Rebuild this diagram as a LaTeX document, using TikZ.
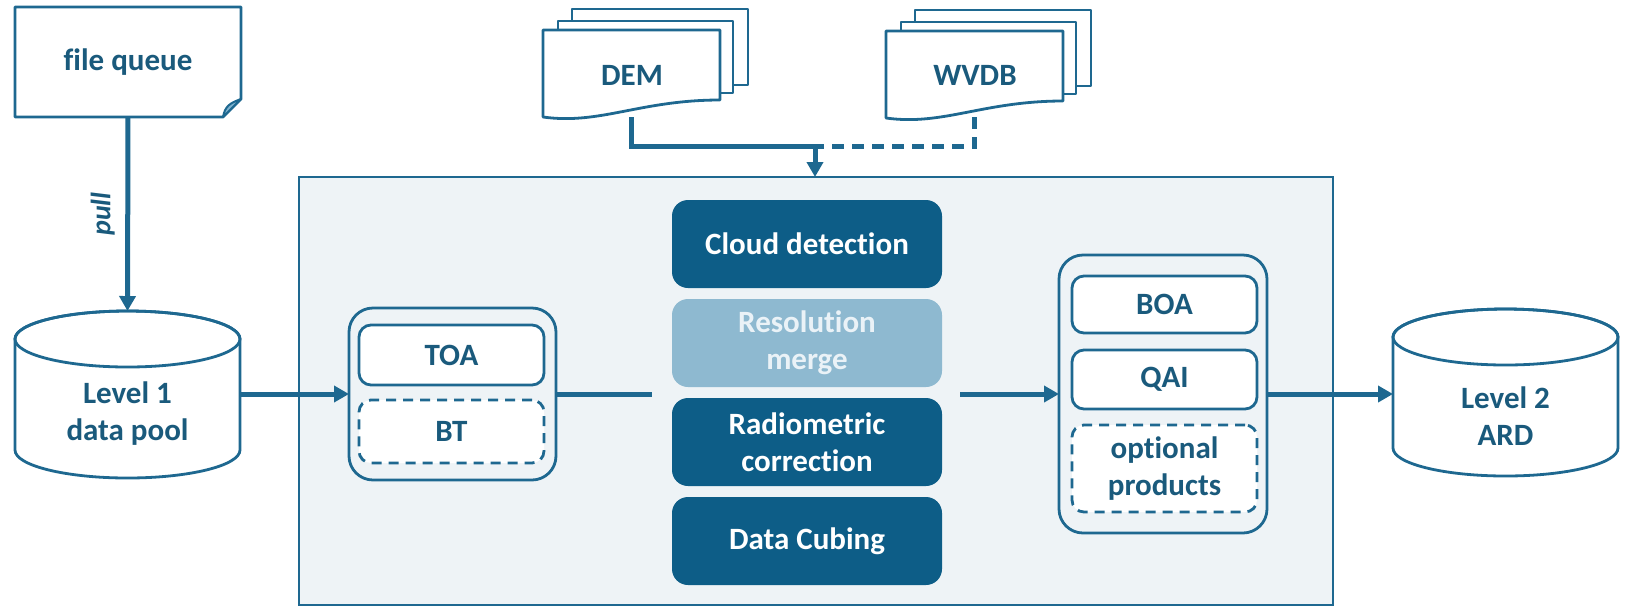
\documentclass[tikz,border=0pt]{standalone}
\usepackage{fontspec}
\setmainfont{Carlito}[Ligatures=NoCommon]
\usetikzlibrary{arrows.meta}
\definecolor{ln}{HTML}{1E6890}
\definecolor{txt}{HTML}{1A5A7C}
\definecolor{dark}{HTML}{0D5D87}
\definecolor{light}{HTML}{8EB9D0}
\definecolor{bg}{HTML}{EEF3F6}
\definecolor{foldc}{HTML}{7FB3CF}
\definecolor{paletxt}{HTML}{EAF2F7}
\newcommand{\mydoc}[2]{%
  \draw[docline,fill=white] (#1+29,#2-21) rectangle (#1+205,#2+55);
  \draw[docline,fill=white] (#1+15,#2-9) rectangle (#1+190,#2+63);
  \draw[docline,fill=white] (#1,#2) -- (#1+177,#2) -- (#1+177,#2+70)
     .. controls (#1+97,#2+70) and (#1+57,#2+95) .. (#1,#2+87) -- cycle;}
\newcommand{\mycyl}[4]{% left x, right x, top y, bottom y (ry = 28)
  \draw[docline,fill=white] (#1,#3+28) -- (#1,#4-28)
     arc (180:0:{(#2-#1)/2} and 28) -- (#2,#3+28)
     arc (0:-180:{(#2-#1)/2} and 28) -- cycle;
  \draw[docline] ({(#1+#2)/2},#3+28) ellipse [x radius={(#2-#1)/2}, y radius=28];}
\begin{document}
\begin{tikzpicture}[x=0.5pt,y=-0.5pt,
  every node/.style={inner sep=0pt, outer sep=0pt, align=center,
    font=\fontsize{15.5}{18.5}\selectfont\bfseries, text=txt},
  box/.style={draw=ln, line width=1.4pt, fill=white, rounded corners=6pt, minimum width=92.5pt},
  dbox/.style={box, dash pattern=on 5pt off 3.5pt},
  grp/.style={draw=ln, line width=1.4pt, fill=bg, rounded corners=12pt},
  proc/.style={fill=dark, rounded corners=8pt, minimum width=135pt, minimum height=44pt, text=white},
  conn/.style={draw=ln, line width=2.5pt},
  arr/.style={conn, -{Triangle[length=7.5pt,width=8pt]}},
  docline/.style={draw=ln, line width=1.4pt, line join=round}
]
\useasboundingbox (0,0) rectangle (1628,607);

% main processing box
\node[draw=ln, line width=1.1pt, fill=bg, minimum width=517pt, minimum height=214pt] (mb) at (816,391) {};

% shape frames (anchors)
\node[minimum width=113pt, minimum height=55pt] (fq) at (128,62) {};
\node[minimum width=112.5pt, minimum height=83.5pt] (l1) at (127.5,394.5) {};
\node[minimum width=112.5pt, minimum height=83.5pt] (l2) at (1505.5,392.5) {};
\node[minimum width=88.5pt, minimum height=43.5pt] (dem) at (631.5,73.5) {};
\node[minimum width=88.5pt, minimum height=43pt] (wvdb) at (974.5,74) {};

% left group
\node[grp, minimum width=103.5pt, minimum height=86pt] (lg) at (452.5,394) {};
\node[box, minimum height=30pt] (toa) at (451.5,355) {TOA};
\node[dbox, minimum height=31.5pt] (bt) at (451.5,431.5) {BT};

% processing steps
\node[proc] (cloud) at (807,244) {Cloud detection};
\node[proc, fill=light, text=paletxt] (res) at (807,343) {Resolution\\merge};
\node[proc] (rad) at (807,442) {Radiometric\\correction};
\node[proc] (cube) at (807,541) {Data Cubing};

% right group
\node[grp, minimum width=104pt, minimum height=139pt] (rg) at (1163,394) {};
\node[box, minimum height=28.5pt] (boa) at (1164.5,304.5) {BOA};
\node[box, minimum height=29.5pt] (qai) at (1164.5,379.5) {QAI};
\node[dbox, minimum height=43.5pt] (opt) at (1164.5,468.5) {optional\\products};

% connectors
\coordinate (c1) at (652,394);
\coordinate (c2) at (960,394);
\coordinate (j) at (815,146);
\draw[arr] (fq.south) -- node[midway, xshift=-12.5pt, rotate=90,
   font=\fontsize{14}{16}\selectfont\bfseries\itshape] (pull) {pull} (l1.north);
\draw[arr] (l1.east |- lg.west) -- (lg.west);
\draw[conn] (lg.east) -- (c1);
\draw[arr] (c2) -- (rg.west);
\draw[arr] (rg.east) -- (rg.east -| l2.west);
\draw[conn] (dem.south) |- (j);
\draw[conn, dash pattern=on 6pt off 4pt] (wvdb.south) |- (j);
\draw[arr] (j) -- (j |- mb.north);

% file queue document
\draw[docline, fill=white] (15,7) -- (241,7) -- (241,99) -- (223,117) -- (15,117) -- cycle;
\draw[docline, line width=1pt, fill=foldc] (223,117) .. controls (225,106) and (230,103) .. (241,99) -- cycle;
\node at (fq) {file queue};

% stacked documents
\mydoc{543}{30}
\node at (632,75) {DEM};
\mydoc{886}{31}
\node at (975,75) {WVDB};

% cylinders
\mycyl{15}{240}{311}{478}
\node at (127.5,414) {Level 1\\data pool};
\mycyl{1393}{1618}{309}{476}
\node at (1505.5,416) {Level 2\\ARD};
\end{tikzpicture}
\end{document}
